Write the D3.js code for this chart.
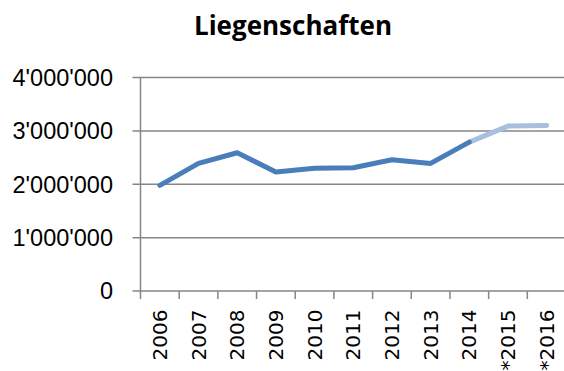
<!DOCTYPE html>
<html>
<head>
<meta charset="utf-8">
<script src="https://cdn.jsdelivr.net/npm/d3@7"></script>
<style>
  html, body { margin: 0; padding: 0; background: #fff; }
  svg { display: block; }
</style>
</head>
<body>
<svg id="chart" width="564" height="371"></svg>
<script>
// Property values per year; the last two years are projections (marked with *)
const years = ["2006", "2007", "2008", "2009", "2010", "2011", "2012", "2013", "2014", "*2015", "*2016"];
const values = [1980000, 2390000, 2590000, 2230000, 2300000, 2310000, 2460000, 2390000, 2790000, 3090000, 3100000];
const projected = [false, false, false, false, false, false, false, false, false, true, true];
const yTicks = [0, 1000000, 2000000, 3000000, 4000000];
const yTickLabels = ["0", "1'000'000", "2'000'000", "3'000'000", "4'000'000"];
const title = "Liegenschaften";

const svg = d3.select("#chart");
const plotLeft = 140.5, plotRight = 566, plotTop = 77.5, plotBottom = 291;
const axisColor = "#868686";

const x = d3.scaleBand().domain(years).range([plotLeft, plotRight]).padding(0);
const y = d3.scaleLinear().domain([0, 4000000]).range([plotBottom, plotTop]);

// Title
svg.append("text")
  .attr("x", 293).attr("y", 35)
  .attr("text-anchor", "middle")
  .attr("font-family", "'Open Sans', 'Liberation Sans', sans-serif")
  .attr("font-weight", "bold")
  .attr("font-size", 26)
  .attr("fill", "#000")
  .text(title);

// Horizontal gridlines
svg.append("g")
  .selectAll("line")
  .data(yTicks)
  .join("line")
  .attr("x1", plotLeft - 8).attr("x2", plotRight)
  .attr("y1", d => y(d)).attr("y2", d => y(d))
  .attr("stroke", axisColor)
  .attr("stroke-width", 1.5);

// Vertical axis line
svg.append("line")
  .attr("x1", plotLeft).attr("x2", plotLeft)
  .attr("y1", plotTop).attr("y2", plotBottom + 8)
  .attr("stroke", axisColor)
  .attr("stroke-width", 1.5);

// Category boundary ticks on the horizontal axis
svg.append("g")
  .selectAll("line")
  .data(years.slice(1))
  .join("line")
  .attr("x1", d => x(d)).attr("x2", d => x(d))
  .attr("y1", plotBottom).attr("y2", plotBottom + 8)
  .attr("stroke", axisColor)
  .attr("stroke-width", 1.5);

// Y axis labels
svg.append("g")
  .selectAll("text")
  .data(yTicks)
  .join("text")
  .attr("x", 113)
  .attr("y", d => y(d))
  .attr("dy", "0.36em")
  .attr("text-anchor", "end")
  .attr("font-family", "'Liberation Sans', Arial, sans-serif")
  .attr("font-size", 23.5)
  .attr("fill", "#000")
  .text((d, i) => yTickLabels[i]);

// X axis labels, rotated
svg.append("g")
  .selectAll("text")
  .data(years)
  .join("text")
  .attr("transform", d => `translate(${x(d) + x.bandwidth() / 2},309.5) rotate(-90)`)
  .attr("dy", "0.36em")
  .attr("text-anchor", "end")
  .attr("font-family", "'DejaVu Sans', sans-serif")
  .attr("font-size", 20)
  .attr("fill", "#000")
  .text(d => d);

// Lines: actual values in solid blue, projection in light blue
const pts = years.map((yr, i) => ({ yr, v: values[i], p: projected[i] }));
const firstProj = projected.indexOf(true);
const actual = pts.slice(0, firstProj);
const proj = pts.slice(firstProj - 1);

const line = d3.line()
  .x(d => x(d.yr) + x.bandwidth() / 2)
  .y(d => y(d.v));

svg.append("path")
  .datum(proj)
  .attr("d", line)
  .attr("fill", "none")
  .attr("stroke", "#a7c0e0")
  .attr("stroke-width", 5)
  .attr("stroke-linejoin", "round")
  .attr("stroke-linecap", "round");

svg.append("path")
  .datum(actual)
  .attr("d", line)
  .attr("fill", "none")
  .attr("stroke", "#4a7ebb")
  .attr("stroke-width", 5)
  .attr("stroke-linejoin", "round")
  .attr("stroke-linecap", "round");
</script>
</body>
</html>
